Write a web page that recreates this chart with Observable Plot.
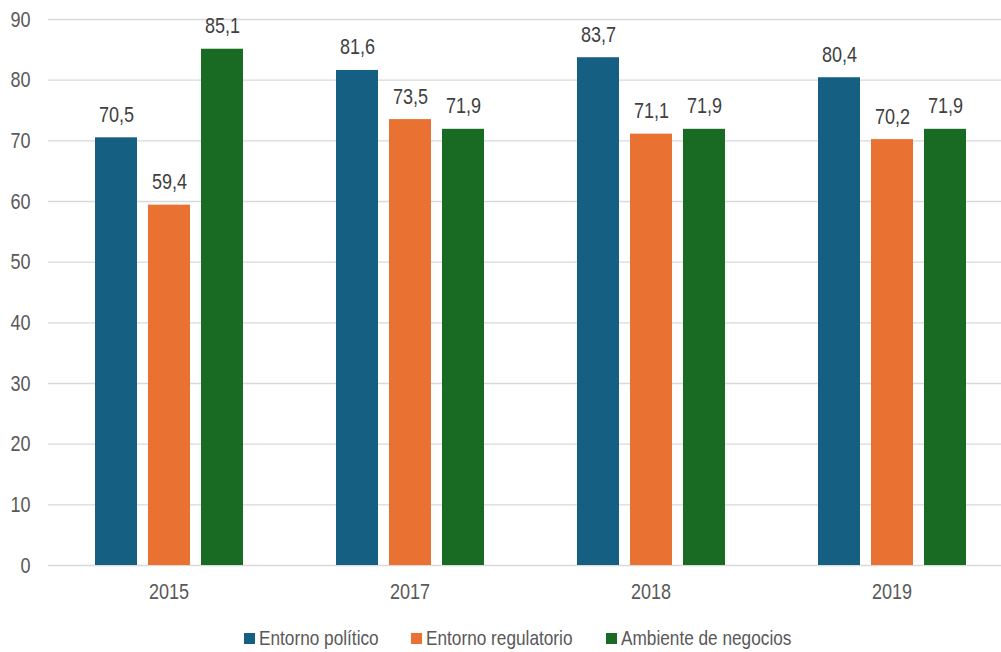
<!DOCTYPE html>
<html>
<head>
<meta charset="utf-8">
<script src="https://cdn.jsdelivr.net/npm/d3@7"></script>
<script src="https://cdn.jsdelivr.net/npm/@observablehq/plot@0.6"></script>
<style>
  html, body { margin: 0; padding: 0; background: #fff; overflow: hidden; }
  body { width: 1001px; height: 652px; font-family: "Liberation Sans", Arial, sans-serif; }
  #legend { height: 46px; display: flex; align-items: center; justify-content: center; padding-left: 67px; font-size: 21px; color: #595959; }
  #legend .item { display: inline-flex; align-items: center; margin-right: 33px; }
  #legend .sw { display: inline-block; width: 11px; height: 11px; margin-right: 4px; }
  #legend .lbl { display: inline-block; transform-origin: left center; white-space: nowrap; }
</style>
</head>
<body>
<div id="chart"></div>
<div id="legend"></div>
<script>
const years = ["2015", "2017", "2018", "2019"];
const series = ["Entorno político", "Entorno regulatorio", "Ambiente de negocios"];
const politico = [70.5, 81.6, 83.7, 80.4];
const regulatorio = [59.4, 73.5, 71.1, 70.2];
const negocios = [85.1, 71.9, 71.9, 71.9];
const colors = ["#156082", "#E97132", "#196B24"];
const yTicks = [0, 10, 20, 30, 40, 50, 60, 70, 80, 90];

const valuesBySeries = [politico, regulatorio, negocios];
const data = [];
years.forEach((yr, i) => {
  series.forEach((s, j) => data.push({year: yr, series: s, value: valuesBySeries[j][i]}));
});
const fmt = v => v.toFixed(1).replace(".", ",");
const NARROW = 0.82;

const plot = Plot.plot({
  width: 1001,
  height: 615,
  marginTop: 19,
  marginBottom: 50,
  marginLeft: 50,
  marginRight: 0,
  style: {fontFamily: '"Liberation Sans", Arial, sans-serif', fontSize: "22px", color: "#595959", overflow: "visible"},
  fx: {domain: years, range: [47, 1012], padding: 0, label: null, axis: "bottom", tickSize: 0, tickPadding: 18},
  x: {domain: series, paddingInner: 0.215, paddingOuter: 0.85, axis: null},
  y: {domain: [0, 90], ticks: yTicks, tickSize: 0, tickPadding: 18, label: null},
  color: {domain: series, range: colors},
  marks: [
    Plot.ruleY(yTicks, {stroke: "#d9d9d9", strokeWidth: 1.3}),
    Plot.barY(data, {fx: "year", x: "series", y: "value", fill: "series"}),
    Plot.text(data, {fx: "year", x: "series", y: "value", text: d => fmt(d.value), lineAnchor: "bottom", dy: -16, fill: "#404040", fontSize: 22})
  ]
});
document.getElementById("chart").appendChild(plot);

// condense all SVG text horizontally (narrow face)
plot.querySelectorAll("text").forEach(t => {
  const b = t.getBBox();
  const anchor = t.getAttribute("text-anchor") || getComputedStyle(t).textAnchor || "start";
  let ax = b.x;
  if (anchor === "middle") ax = b.x + b.width / 2;
  else if (anchor === "end") ax = b.x + b.width;
  const prev = t.getAttribute("transform") || "";
  t.setAttribute("transform", `${prev} translate(${ax},0) scale(${NARROW},1) translate(${-ax},0)`);
});

const legend = document.getElementById("legend");
series.forEach((s, i) => {
  const item = document.createElement("span");
  item.className = "item";
  const sw = document.createElement("span");
  sw.className = "sw";
  sw.style.background = colors[i];
  const lbl = document.createElement("span");
  lbl.className = "lbl";
  lbl.textContent = s;
  item.appendChild(sw);
  item.appendChild(lbl);
  legend.appendChild(item);
});
legend.querySelectorAll(".lbl").forEach(l => {
  const w = l.getBoundingClientRect().width;
  l.style.transform = `scaleX(${NARROW})`;
  l.style.marginRight = `${-w * (1 - NARROW)}px`;
});
</script>
</body>
</html>
